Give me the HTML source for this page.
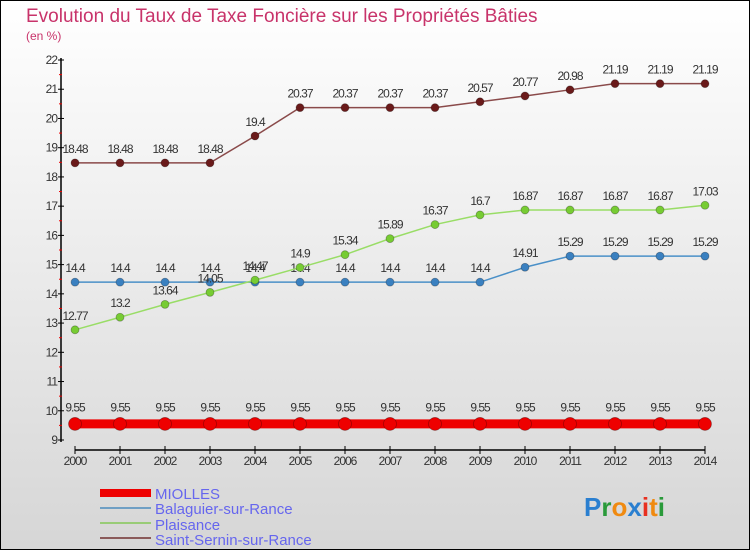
<!DOCTYPE html>
<html><head><meta charset="utf-8"><style>
body{margin:0}
#c{width:750px;height:550px;position:relative;font-family:"Liberation Sans",sans-serif}
</style></head><body>
<div id="c">
<svg id="s" width="750" height="550" xmlns="http://www.w3.org/2000/svg">
<defs><linearGradient id="bg" x1="0" y1="0" x2="0" y2="1"><stop offset="0" stop-color="#ffffff"/><stop offset="1" stop-color="#d6d6d6"/></linearGradient></defs>
<rect x="0.5" y="0.5" width="749" height="549" fill="url(#bg)" stroke="#000"/>
<text x="26" y="22" font-size="19" fill="#c8336a">Evolution du Taux de Taxe Foncière sur les Propriétés Bâties</text>
<text x="26" y="40" font-size="12" fill="#c8336a">(en %)</text>
<g id="plot"></g>
<g>
<rect x="100" y="489" width="51" height="8" fill="#ee0000"/>
<text x="155" y="499" font-size="15" fill="#6666ee">MIOLLES</text>
<rect x="100" y="507" width="51" height="2" fill="#6f9fc4"/>
<text x="155" y="514" font-size="15" fill="#6666ee">Balaguier-sur-Rance</text>
<rect x="100" y="522" width="51" height="2" fill="#99cc77"/>
<text x="155" y="530" font-size="15" fill="#6666ee">Plaisance</text>
<rect x="100" y="537" width="51" height="2" fill="#8a5a5a"/>
<text x="155" y="545" font-size="15" fill="#6666ee">Saint-Sernin-sur-Rance</text>
</g>
<g font-size="26" font-weight="bold">
<text x="584" y="516"><tspan fill="#2a7fd0">P</tspan><tspan fill="#2a9a3a">r</tspan><tspan fill="#f08a10">o</tspan><tspan fill="#2a7fd0">x</tspan><tspan fill="#e83020">i</tspan><tspan fill="#f08a10">t</tspan><tspan fill="#2a9a3a">i</tspan></text>
</g>
</svg>
</div>
<script>
const years=[2000,2001,2002,2003,2004,2005,2006,2007,2008,2009,2010,2011,2012,2013,2014];
const miolles=[9.55,9.55,9.55,9.55,9.55,9.55,9.55,9.55,9.55,9.55,9.55,9.55,9.55,9.55,9.55];
const balaguier=[14.4,14.4,14.4,14.4,14.4,14.4,14.4,14.4,14.4,14.4,14.91,15.29,15.29,15.29,15.29];
const plaisance=[12.77,13.2,13.64,14.05,14.47,14.9,15.34,15.89,16.37,16.7,16.87,16.87,16.87,16.87,17.03];
const saintSernin=[18.48,18.48,18.48,18.48,19.4,20.37,20.37,20.37,20.37,20.57,20.77,20.98,21.19,21.19,21.19];
const yTicks=[9,10,11,12,13,14,15,16,17,18,19,20,21,22];

const NS="http://www.w3.org/2000/svg";
const g=document.getElementById('plot');
const X=y=>75+(y-2000)*45;
const Y=v=>60+(22-v)*(380/13);
function mk(t,a,txt){const e=document.createElementNS(NS,t);for(const k in a)e.setAttribute(k,a[k]);if(txt!==undefined)e.textContent=txt;g.appendChild(e);return e;}
let e;
e=mk('line',{x1:61,y1:58,x2:61,y2:442,stroke:'#000','stroke-width':1.5});


yTicks.forEach(v=>{
  e=mk('line',{x1:58,y1:Y(v),x2:64,y2:Y(v),stroke:'#000'});
  
  
  if(v<22){e=mk('line',{x1:59,y1:Y(v+0.5),x2:62,y2:Y(v+0.5),stroke:'#e00'});
  
  }
  e=mk('text',{x:57,y:Y(v)+4,'font-size':12,fill:'#333','text-anchor':'end','letter-spacing':'-1'},String(v));
  
  
});
e=mk('line',{x1:X(2000),y1:450,x2:X(2014),y2:450,stroke:'#000','stroke-width':1.5});


years.forEach(y=>{
  e=mk('line',{x1:X(y),y1:446,x2:X(y),y2:454,stroke:'#000'});
  
  
  e=mk('text',{x:X(y),y:465,'font-size':12,fill:'#333','text-anchor':'middle','letter-spacing':'-1'},String(y));
  
  
});
function series(vals,name,color,dot,lw,r){
  const pts=vals.map((v,i)=>X(years[i])+','+Y(v)).join(' ');
  e=mk('polyline',{points:pts,fill:'none',stroke:color,'stroke-width':lw});
  
  
  vals.forEach((v,i)=>{
    e=mk('circle',{cx:X(years[i]),cy:Y(v),r:r,fill:dot,stroke:'rgba(0,0,0,0.3)','stroke-width':0.8});
    
    
    e=mk('text',{x:X(years[i]),y:Y(v)-(r+6),'font-size':12,fill:'#333','text-anchor':'middle','letter-spacing':'-1'},String(v));
    
    
  });
}
series(saintSernin,'saint-sernin','#8a4a4a','#6a1a1a',1.5,4);
series(balaguier,'balaguier','#4a90c8','#3a80c0',1.5,4);
series(plaisance,'plaisance','#99dd66','#77cc33',1.5,4);
series(miolles,'miolles','#ee0000','#ee0000',9,6.5);
</script>
</body></html>
